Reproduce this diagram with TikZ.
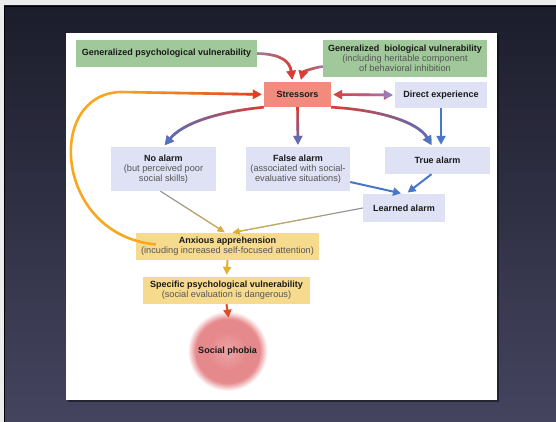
\documentclass[tikz,border=0pt]{standalone}
\usepackage{fontspec}
\setmainfont{Liberation Sans}
\usepackage{xcolor}
\usetikzlibrary{arrows.meta,fadings}

\definecolor{slidetop}{HTML}{1C1D2B}
\definecolor{slidebot}{HTML}{45445F}
\definecolor{boxgreen}{HTML}{A0C89B}
\definecolor{boxred}{HTML}{F38A7E}
\definecolor{boxblue}{HTML}{DEE2F4}
\definecolor{boxyellow}{HTML}{F6DB8E}
\definecolor{subgray}{HTML}{555555}
\definecolor{arrred}{HTML}{E2392C}
\definecolor{arrorange}{HTML}{F7A81E}
\definecolor{arrblue}{HTML}{4877C9}
\definecolor{arrpurple}{HTML}{8E84CC}
\definecolor{arrmauve}{HTML}{9A7FA6}
\definecolor{arrgray}{HTML}{8A90A2}
\definecolor{arryellow}{HTML}{E3B22C}
\definecolor{phpink}{HTML}{E6898C}
\definecolor{phlight}{HTML}{ECA4A6}

\pgfdeclareradialshading{phobiablur}{\pgfpoint{0bp}{0bp}}{color(0bp)=(phlight); color(12bp)=(phpink); color(20bp)=(phpink); color(25bp)=(white); color(50bp)=(white)}

\newcommand{\hd}[1]{{\fontsize{9}{10}\selectfont\bfseries\color{black!90}#1}}
\newcommand{\gradarrow}[4]{%
  \draw[#1] #4;
  \draw[#1, #2, path fading=#3] #4;}

\tikzstyle{box} = [rectangle, inner sep=1pt, align=center, text=subgray,
    font=\fontsize{9.2}{10}\selectfont]
\tikzstyle{greenbox} = [box, fill=boxgreen]
\tikzstyle{redbox} = [box, fill=boxred]
\tikzstyle{bluebox} = [box, fill=boxblue]
\tikzstyle{yellowbox} = [box, fill=boxyellow]
\tikzstyle{arr} = [line width=2.6pt, -{Triangle[length=9pt,width=9pt]}, shorten >=2pt]
\tikzstyle{midarr} = [line width=2pt, -{Triangle[length=8pt,width=8pt]}, shorten >=2pt]
\tikzstyle{dblarr} = [arr, {Triangle[length=9pt,width=9pt]}-{Triangle[length=9pt,width=9pt]}, shorten <=2pt]
\tikzstyle{thinarr} = [line width=1.1pt, -{Triangle[length=7pt,width=6pt]}, shorten >=1pt]

\begin{document}
\begin{tikzpicture}[x=1pt, y=-1pt]
\useasboundingbox (0,0) rectangle (556,422);
\fill[gray!15] (0,0) rectangle (556,422);
\shade[top color=slidetop, bottom color=slidebot, draw=black] (4,6) rectangle (556,422);
\fill[black, opacity=.45] (68,35) rectangle (499,402);
\fill[white] (66,33) rectangle (497,400);

\node[greenbox, minimum width=181pt, minimum height=27pt] (gpv) at (166.5,53.5) {\hd{Generalized psychological vulnerability}};
\node[greenbox, minimum width=164pt, minimum height=37pt] (gbv) at (405,58.5) {\hd{Generalized\ \ biological vulnerability}\\(including heritable component\\of behavioral inhibition};
\node[redbox, minimum width=67pt, minimum height=25pt] (st) at (297.5,94.5) {\hd{Stressors}};
\node[bluebox, minimum width=92pt, minimum height=26pt] (de) at (441,95) {\hd{Direct experience}};
\node[bluebox, minimum width=105pt, minimum height=44pt] (na) at (163.5,169) {\hd{No alarm}\\(but perceived poor\\social skills)};
\node[bluebox, minimum width=104pt, minimum height=44pt] (fa) at (298,169) {\hd{False alarm}\\(associated with social-\\evaluative situations)};
\node[bluebox, minimum width=105pt, minimum height=27pt] (ta) at (437.5,160.5) {\hd{True alarm}};
\node[bluebox, minimum width=82pt, minimum height=28pt] (la) at (404,208) {\hd{Learned alarm}};
\node[yellowbox, minimum width=183pt, minimum height=27pt] (anx) at (227.5,246.5) {\hd{Anxious apprehension}\\(incuding increased self-focused attention)};
\node[yellowbox, minimum width=167pt, minimum height=27pt] (sp) at (226.5,290.5) {\hd{Specific psychological vulnerability}\\(social evaluation is dangerous)};
\node[circle, minimum size=80pt, shade, shading=phobiablur] (ph) at (227.5,351) {\hd{Social phobia}};

\gradarrow{arr, arrmauve}{arrred}{west}{(gpv.east) .. controls (282,54) and (290,62) .. ([xshift=-5pt]st.north)}
\gradarrow{arr, arrmauve}{arrred}{east}{([yshift=-8pt]gbv.west) .. controls (312,68) and (303,72) .. ([xshift=3pt]st.north)}
\gradarrow{dblarr, arrred}{arrpurple}{west}{(st.east) -- (de.west)}

\gradarrow{arr, arrred}{arrblue}{east}{(st.south west) .. controls (215,112) and (182,124) .. (na.north)}
\gradarrow{arr, arrred}{arrblue}{north}{(st.south) -- (fa.north)}
\gradarrow{arr, arrred}{arrblue}{west}{(st.south east) .. controls (380,110) and (418,122) .. ([xshift=-5pt]ta.north)}
\draw[arr, arrblue] (de.south) -- (de.south |- ta.north);

\draw[midarr, arrblue] ([yshift=-13pt]fa.east) -- ([xshift=-1pt]la.north);
\draw[midarr, arrblue] ([xshift=-6pt]ta.south) -- ([xshift=2pt]la.north);

\gradarrow{thinarr, arrgray}{arryellow}{north}{([xshift=-3pt]na.south) -- ([xshift=-2pt]anx.north)}
\gradarrow{thinarr, arrgray}{arryellow}{east}{(la.west) -- ([xshift=4pt]anx.north)}

\draw[arr, arrorange] ([xshift=20pt,yshift=2pt]anx.west) .. controls (55,235) and (45,95) .. (120,92) coordinate (lp) -- (st.west);
\draw[arr, arrred, path fading=west] (lp) -- (st.west);

\draw[midarr, arryellow] (anx.south) -- (sp.north);
\draw[midarr, arrred!80!orange, shorten >=-7pt] (sp.south) -- (ph.north);
\end{tikzpicture}
\end{document}
